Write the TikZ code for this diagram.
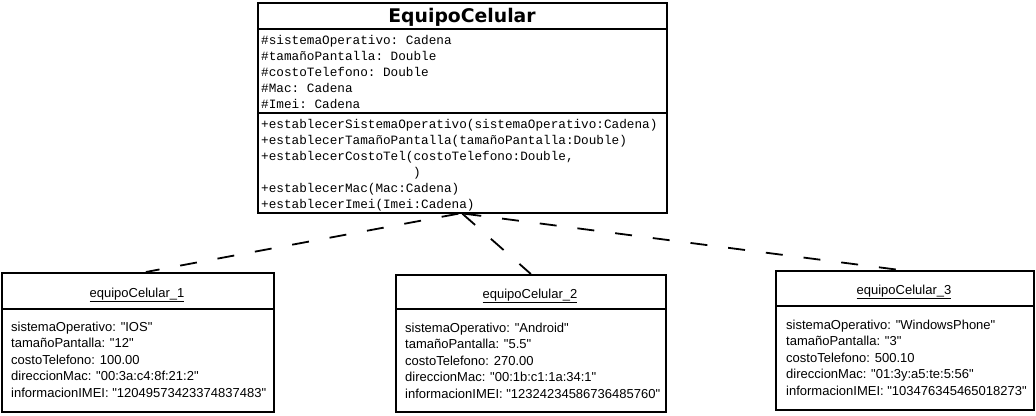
\documentclass[tikz,border=0pt]{standalone}
\usepackage{fontspec}
\setmainfont{Liberation Sans}
\setmonofont{Liberation Mono}
\newfontfamily\objfont{Liberation Sans}
\newfontfamily\titlefont{DejaVu Sans}
\begin{document}
\begin{tikzpicture}[x=1pt,y=-1pt,
  box/.style={draw, line width=1.7pt, anchor=north west, inner sep=0pt},
  sep/.style={line width=1.7pt},
  mono/.style={anchor=base west, inner sep=0pt, font=\fontsize{12.7}{14}\ttfamily},
  objtxt/.style={anchor=base west, inner sep=0pt, font=\objfont\fontsize{13}{14}\selectfont},
  objtitle/.style={anchor=base, inner sep=0pt, font=\objfont\fontsize{13}{14}\selectfont},
  dep/.style={dash pattern=on 17pt off 21pt, line width=1.8pt}]
\useasboundingbox (0,0) rectangle (1036,415);
\fill[white] (0,0) rectangle (1036,415);

% class box
\node[box, minimum width=409pt, minimum height=210pt] (cls) at (257,2) {};
\draw[sep] (257,29) -- (666,29);
\draw[sep] (257,113) -- (666,113);
\node[anchor=base, inner sep=0pt, font=\titlefont\bfseries\fontsize{18.8}{20}\selectfont] (clstitle) at (462,22.5) {EquipoCelular};
\node[mono] (a1) at (261,44) {\#sistemaOperativo: Cadena};
\node[mono] (a2) at (261,60) {\#tamañoPantalla: Double};
\node[mono] (a3) at (261,76) {\#costoTelefono: Double};
\node[mono] (a4) at (261,92) {\#Mac: Cadena};
\node[mono] (a5) at (261,108) {\#Imei: Cadena};
\node[mono] (m1) at (261,128) {+establecerSistemaOperativo(sistemaOperativo:Cadena)};
\node[mono] (m2) at (261,144) {+establecerTamañoPantalla(tamañoPantalla:Double)};
\node[mono] (m3) at (261,160) {+establecerCostoTel(costoTelefono:Double,};
\node[mono] (m4) at (413,176) {)};
\node[mono] (m5) at (261,192) {+establecerMac(Mac:Cadena)};
\node[mono] (m6) at (261,208) {+establecerImei(Imei:Cadena)};

% object 1
\node[box, minimum width=272pt, minimum height=139pt] (o1) at (1,272) {};
\draw[sep] (1,309) -- (273,309);
\node[objtitle] (o1t) at (137,297) {\underline{equipoCelular\_1}};
\node[objtxt] (o1a) at (11,331) {sistemaOperativo: "IOS"};
\node[objtxt] (o1b) at (11,347.5) {tamañoPantalla: "12"};
\node[objtxt] (o1c) at (11,364) {costoTelefono: 100.00};
\node[objtxt] (o1d) at (11,380.5) {direccionMac: "00:3a:c4:8f:21:2"};
\node[objtxt] (o1e) at (11,397) {informacionIMEI: "12049573423374837483"};

% object 2
\node[box, minimum width=270pt, minimum height=137pt] (o2) at (395,274) {};
\draw[sep] (395,309) -- (665,309);
\node[objtitle] (o2t) at (530,298) {\underline{equipoCelular\_2}};
\node[objtxt] (o2a) at (405,332) {sistemaOperativo: "Android"};
\node[objtxt] (o2b) at (405,348.5) {tamañoPantalla: "5.5"};
\node[objtxt] (o2c) at (405,365) {costoTelefono: 270.00};
\node[objtxt] (o2d) at (405,381.5) {direccionMac: "00:1b:c1:1a:34:1"};
\node[objtxt] (o2e) at (405,398) {informacionIMEI: "12324234586736485760"};

% object 3
\node[box, minimum width=258pt, minimum height=139pt] (o3) at (775,270) {};
\draw[sep] (775,306) -- (1033,306);
\node[objtitle] (o3t) at (904,294) {\underline{equipoCelular\_3}};
\node[objtxt] (o3a) at (786,329) {sistemaOperativo: "WindowsPhone"};
\node[objtxt] (o3b) at (786,345.5) {tamañoPantalla: "3"};
\node[objtxt] (o3c) at (786,362) {costoTelefono: 500.10};
\node[objtxt] (o3d) at (786,378.5) {direccionMac: "01:3y:a5:te:5:56"};
\node[objtxt] (o3e) at (786,395) {informacionIMEI: "103476345465018273"};

% dependencies
\draw[dep] ([xshift=-4pt]cls.south) -- ([xshift=8pt]o1.north);
\draw[dep] (cls.south) -- (o2.north);
\draw[dep] ([xshift=2pt]cls.south) -- ([xshift=-5pt]o3.north);
\end{tikzpicture}
\end{document}
